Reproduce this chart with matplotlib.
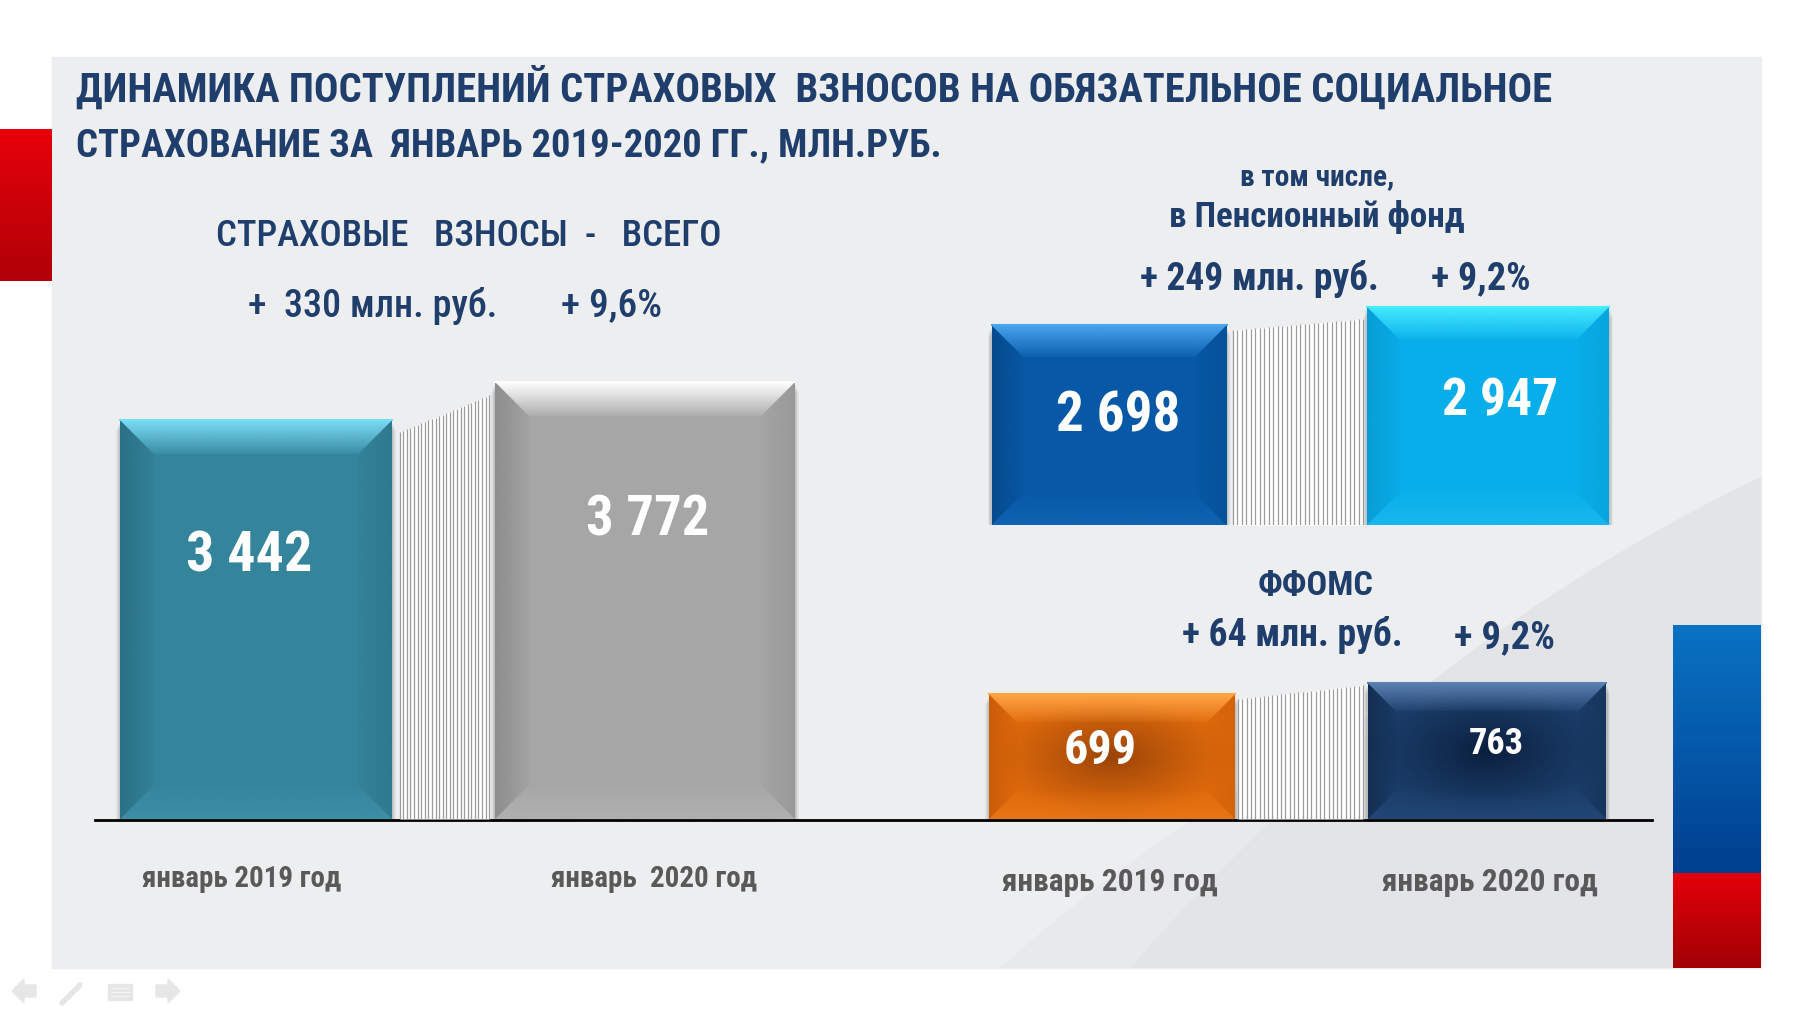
import numpy as np
import matplotlib
matplotlib.use("Agg")
import matplotlib.pyplot as plt
from matplotlib.patches import Polygon, Rectangle
from matplotlib.colors import LinearSegmentedColormap, to_rgb

plt.rcParams['font.family'] = ['Roboto Condensed', 'PT Sans Narrow', 'IBM Plex Sans Condensed', 'DejaVu Sans']

# ---- data ----
years = ['январь 2019 год', 'январь 2020 год']
total = [3442, 3772]
pension = [2698, 2947]
ffoms = [699, 763]
total_lbl = ['3 442', '3 772']
pension_lbl = ['2 698', '2 947']
ffoms_lbl = ['699', '763']

title1 = 'ДИНАМИКА ПОСТУПЛЕНИЙ СТРАХОВЫХ  ВЗНОСОВ НА ОБЯЗАТЕЛЬНОЕ СОЦИАЛЬНОЕ'
title2 = 'СТРАХОВАНИЕ ЗА  ЯНВАРЬ 2019-2020 ГГ., МЛН.РУБ.'

W, H = 1814, 1020
NAVY = '#1F3E6B'
GREY_TXT = '#595959'

fig = plt.figure(figsize=(W / 100, H / 100), dpi=100)
fig.patch.set_facecolor('white')
renderer = fig.canvas.get_renderer()

bg = fig.add_axes([0, 0, 1, 1])
bg.axis('off')


def fit(t, width):
    w = t.get_window_extent(renderer).width
    t.set_fontsize(t.get_fontsize() * width / w)
    return t


def grad_rect(ax, x0, y0, w, h, c1, c2):
    cm = LinearSegmentedColormap.from_list('g', [c1, c2])
    g = np.linspace(0, 1, 256).reshape(-1, 1)
    ax.imshow(g, cmap=cm, extent=(x0, x0 + w, y0 + h, y0), aspect='auto',
              interpolation='bicubic', zorder=1)


# slide panel and decorations
bg.add_patch(Rectangle((52, 58), 1709, 911, color='#EDEEF0', zorder=0))
t = np.linspace(0, 1, 60)
cx = (1 - t) ** 2 * 1130 + 2 * (1 - t) * t * 1420 + t ** 2 * 1761
cy = (1 - t) ** 2 * 969 + 2 * (1 - t) * t * 640 + t ** 2 * 478
bg.fill(np.r_[cx, 1761, 1130], np.r_[cy, 969, 969], color='#E3E4E7', zorder=0.5, lw=0)
cx2 = (1 - t) ** 2 * 1000 + 2 * (1 - t) * t * 1300 + t ** 2 * 1761
cy2 = (1 - t) ** 2 * 969 + 2 * (1 - t) * t * 700 + t ** 2 * 560
bg.fill(np.r_[cx2, 1761, 1000], np.r_[cy2, 969, 969], color='#E8E9EC', zorder=0.4, lw=0)

grad_rect(bg, 0, 130, 52, 152, '#E8000A', '#B00008')
grad_rect(bg, 1673, 626, 88, 248, '#0A72C4', '#003F8F')
grad_rect(bg, 1673, 874, 88, 95, '#E4000A', '#A00005')

# nav icons (faint)
ic = '#E6E6E6'
bg.add_patch(Polygon([[12, 992], [24, 980], [24, 986], [36, 986], [36, 998], [24, 998], [24, 1004]], color=ic))
bg.plot([62, 80], [1004, 986], color=ic, lw=4, solid_capstyle='round')
bg.add_patch(Rectangle((108, 985), 24, 16, color=ic))
for yy in (989, 993, 997):
    bg.plot([111, 129], [yy, yy], color='#F4F4F4', lw=1)
bg.add_patch(Polygon([[180, 992], [168, 980], [168, 986], [156, 986], [156, 998], [168, 998], [168, 1004]], color=ic))

# baseline
bg.plot([95, 1652], [821, 821], color='black', lw=2, zorder=1)
bg.set_xlim(0, W)
bg.set_ylim(H, 0)


def txt(x, y, s, width, color=NAVY, weight='bold', ha='left'):
    tt = bg.text(x, y, s, fontsize=20, fontweight=weight, color=color, va='center', ha=ha)
    return fit(tt, width)


# titles and annotations
txt(76, 88, title1, 1472)
txt(76, 146, title2, 867)
txt(216, 236, 'СТРАХОВЫЕ   ВЗНОСЫ  -   ВСЕГО', 506, weight='medium')
txt(248, 306, '+  330 млн. руб.', 249, weight='medium')
txt(561, 306, '+ 9,6%', 101, weight='medium')

txt(1317, 177, 'в том числе,', 154, ha='center')
txt(1317, 217, 'в Пенсионный фонд', 295, ha='center')
txt(1140, 279, '+ 249 млн. руб.', 239)
txt(1431, 279, '+ 9,2%', 100)

txt(1316, 586, 'ФФОМС', 116, ha='center')
txt(1182, 635, '+ 64 млн. руб.', 221)
txt(1454, 638, '+ 9,2%', 101)

# category labels
txt(242, 879, years[0], 199, color=GREY_TXT, ha='center')
txt(654, 879, years[1].replace(' ', '  ', 1), 206, color=GREY_TXT, ha='center')
txt(1110, 882, years[0], 215, color=GREY_TXT, ha='center')
txt(1490, 882, years[1], 215, color=GREY_TXT, ha='center')


def data_axes(left, top, right, bottom):
    ax = fig.add_axes([left / W, 1 - bottom / H, (right - left) / W, (bottom - top) / H])
    ax.axis('off')
    ax.patch.set_alpha(0)
    return ax


def px_per_unit(ax):
    p0 = ax.transData.transform((0, 0))
    p1 = ax.transData.transform((1, 1))
    return abs(p1[0] - p0[0]), abs(p1[1] - p0[1])


def alpha_img(ax, ext, color, a0, a1, vertical, clip, z=3):
    rgb = to_rgb(color)
    a = np.linspace(a0, a1, 128)
    arr = np.zeros((128, 1, 4) if vertical else (1, 128, 4))
    arr[..., 0], arr[..., 1], arr[..., 2] = rgb
    if vertical:
        arr[:, 0, 3] = a
    else:
        arr[0, :, 3] = a
    im = ax.imshow(arr, extent=ext, origin='lower', aspect='auto', interpolation='bilinear', zorder=z)
    im.set_clip_path(clip)


def fancy_bar(ax, x, h, w, main, top_c, side_c, bot_c, center=None, depth=34):
    sx, sy = px_per_unit(ax)
    dx = depth / sx
    dy = min(depth / sy, h * 0.3)
    x0, x1 = x - w / 2, x + w / 2
    # soft shadow
    for k in range(5):
        e = k + 2
        ax.add_patch(Rectangle((x0 - e / sx * 0.6, -e * 1.6 / sy), w + e * 1.2 / sx, h, color='black',
                               alpha=0.04, lw=0, zorder=1))
    bar = ax.bar(x, h, width=w, color=main, zorder=2, lw=0)[0]
    if center is not None:
        X, Y = np.meshgrid(np.linspace(-1, 1, 200), np.linspace(-1, 1, 120))
        R = np.clip(np.sqrt(X ** 2 + Y ** 2), 0, 1)
        arr = np.zeros(R.shape + (4,))
        arr[..., :3] = to_rgb(center)
        arr[..., 3] = (1 - R) ** 1.2
        im = ax.imshow(arr, extent=(x0, x1, 0, h), origin='lower', aspect='auto',
                       interpolation='bicubic', zorder=2.1)
        im.set_clip_path(bar)
    facets = [
        ([[x0, h], [x1, h], [x1 - dx, h - dy], [x0 + dx, h - dy]], top_c, (x0, x1, h - dy, h), 0.1, 1.0, True),
        ([[x0, 0], [x1, 0], [x1 - dx, dy], [x0 + dx, dy]], bot_c, (x0, x1, 0, dy), 0.45, 0.05, True),
        ([[x0, 0], [x0, h], [x0 + dx, h - dy], [x0 + dx, dy]], side_c, (x0, x0 + dx, 0, h), 0.75, 0.1, False),
        ([[x1, 0], [x1, h], [x1 - dx, h - dy], [x1 - dx, dy]], side_c, (x1 - dx, x1, 0, h), 0.05, 0.4, False),
    ]
    for pts, c, ext, a0, a1, vert in facets:
        poly = Polygon(pts, closed=True, facecolor='none', edgecolor='none')
        ax.add_patch(poly)
        alpha_img(ax, ext, c, a0, a1, vert, poly)
    ax.plot([x0, x1], [h, h], color=top_c, lw=1.5, zorder=4)


def connector(ax, xa, xb, ha, hb, n):
    ax.fill_between([xa, xb], 0, [ha, hb], color='white', zorder=1.5, lw=0)
    xl = np.linspace(xa, xb, n)
    ax.vlines(xl, 0, ha + (hb - ha) * (xl - xa) / (xb - xa), color='#9C9C9C', lw=0.9, zorder=1.6)


def value_label(ax, x, y, s, width):
    tt = ax.text(x, y, s, fontsize=40, fontweight='bold', color='white', ha='center', va='center', zorder=5)
    fit(tt, width)


# ---- left group: all contributions ----
axL = data_axes(95, 300, 850, 820)
limL = ((-0.4139, 1.527), (0, 4490))
axL.set_xlim(*limL[0]); axL.set_ylim(*limL[1])
wL = [0.699, 0.771]
fancy_bar(axL, 0, total[0], wL[0], '#34849B', '#7ADDF6', '#276A7D', '#4A9DB4')
fancy_bar(axL, 1, total[1], wL[1], '#A6A6A6', '#FFFFFF', '#858585', '#BDBDBD')
connector(axL, wL[0] / 2 + 0.02, 1 - wL[1] / 2 - 0.015, total[0] * 0.97, total[1] * 0.97, 26)
axL.set_xlim(*limL[0]); axL.set_ylim(*limL[1])
value_label(axL, -0.018, total[0] * 0.66, total_lbl[0], 126)
value_label(axL, 1.008, total[1] * 0.685, total_lbl[1], 123)

# ---- right top: pension fund ----
axP = data_axes(900, 250, 1700, 526)
limP = ((-0.5515, 1.559), (0, 3731))
axP.set_xlim(*limP[0]); axP.set_ylim(*limP[1])
wP = [0.62, 0.639]
fancy_bar(axP, 0, pension[0], wP[0], '#0759A7', '#4AA6F0', '#054785', '#1A6FBE', depth=32)
fancy_bar(axP, 1, pension[1], wP[1], '#08AEEA', '#45ECFF', '#0898CF', '#2BC4F4', depth=32)
connector(axP, wP[0] / 2 + 0.017, 1 - wP[1] / 2 - 0.01, pension[0] * 0.975, pension[1] * 0.945, 30)
axP.set_xlim(*limP[0]); axP.set_ylim(*limP[1])
value_label(axP, 0.024, pension[0] * 0.55, pension_lbl[0], 124)
value_label(axP, 1.032, pension[1] * 0.57, pension_lbl[1], 116)

# ---- right bottom: FFOMS ----
axF = data_axes(900, 560, 1700, 820)
limF = ((-0.5653, 1.568), (0, 1459))
axF.set_xlim(*limF[0]); axF.set_ylim(*limF[1])
wF = [0.656, 0.637]
fancy_bar(axF, 0, ffoms[0], wF[0], '#E06A0C', '#FFA545', '#C45808', '#F08020', center='#9A4408', depth=28)
fancy_bar(axF, 1, ffoms[1], wF[1], '#1B3E6A', '#5C80B2', '#11294A', '#2A5085', center='#0B1F3E', depth=28)
connector(axF, wF[0] / 2 + 0.008, 1 - wF[1] / 2 - 0.012, ffoms[0] * 0.96, ffoms[1] * 0.985, 30)
axF.set_xlim(*limF[0]); axF.set_ylim(*limF[1])
value_label(axF, -0.032, ffoms[0] * 0.55, ffoms_lbl[0], 73)
value_label(axF, 1.024, ffoms[1] * 0.56, ffoms_lbl[1], 55)

fig.savefig('out.png', dpi=100, facecolor='white')
